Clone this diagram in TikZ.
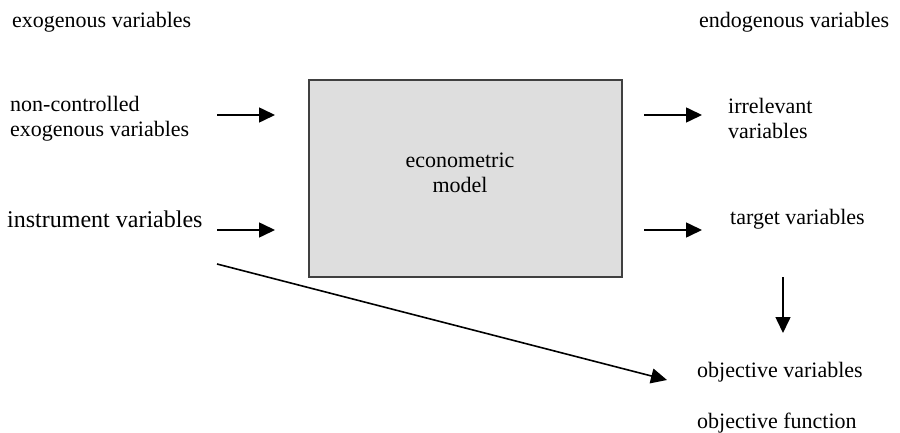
\documentclass[tikz,border=0pt]{standalone}
\usepackage{fontspec}
\setmainfont{Liberation Serif}
\usetikzlibrary{arrows.meta}
\begin{document}
\begin{tikzpicture}[x=1pt,y=-1pt,
  lbl/.style={anchor=base west,inner sep=0pt,align=left,font=\fontsize{22}{25}\selectfont},
  biglbl/.style={lbl,font=\fontsize{24}{27}\selectfont},
  arr/.style={line width=1.6pt,-{Triangle[length=16pt,width=15pt]}},
  modelbox/.style={draw=black!75,fill=black!13,line width=2pt,minimum width=313pt,minimum height=197pt,inner sep=0pt}]
\useasboundingbox (0,0) rectangle (900,433);
\node[modelbox] (box) at (465.5,178.5) {};
\node[lbl,align=center,anchor=base] (em) at (460,193) {econometric\\model};
\node[lbl] (exo) at (12,28) {exogenous variables};
\node[lbl] (endo) at (699,28) {endogenous variables};
\node[lbl] (nc) at (10,137) {non-controlled\\exogenous variables};
\node[biglbl] (iv) at (7,227) {instrument variables};
\node[lbl] (irr) at (728,139) {irrelevant\\variables};
\node[lbl] (tv) at (730,225) {target variables};
\node[lbl] (ov) at (697,377) {objective variables};
\node[lbl] (of) at (697,428) {objective function};
\coordinate (a1s) at (217,115); \coordinate (a1e) at (275,115);
\coordinate (a2s) at (217,230); \coordinate (a2e) at (275,230);
\coordinate (a3s) at (644,115); \coordinate (a3e) at (702,115);
\coordinate (a4s) at (644,230); \coordinate (a4e) at (702,230);
\coordinate (a5s) at (783,277); \coordinate (a5e) at (783,333);
\coordinate (a6s) at (217,264); \coordinate (a6e) at (667,380);
\draw[arr] (a1s) -- (a1e);
\draw[arr] (a2s) -- (a2e);
\draw[arr] (a3s) -- (a3e);
\draw[arr] (a4s) -- (a4e);
\draw[arr] (a5s) -- (a5e);
\draw[arr] (a6s) -- (a6e);
\end{tikzpicture}
\end{document}
